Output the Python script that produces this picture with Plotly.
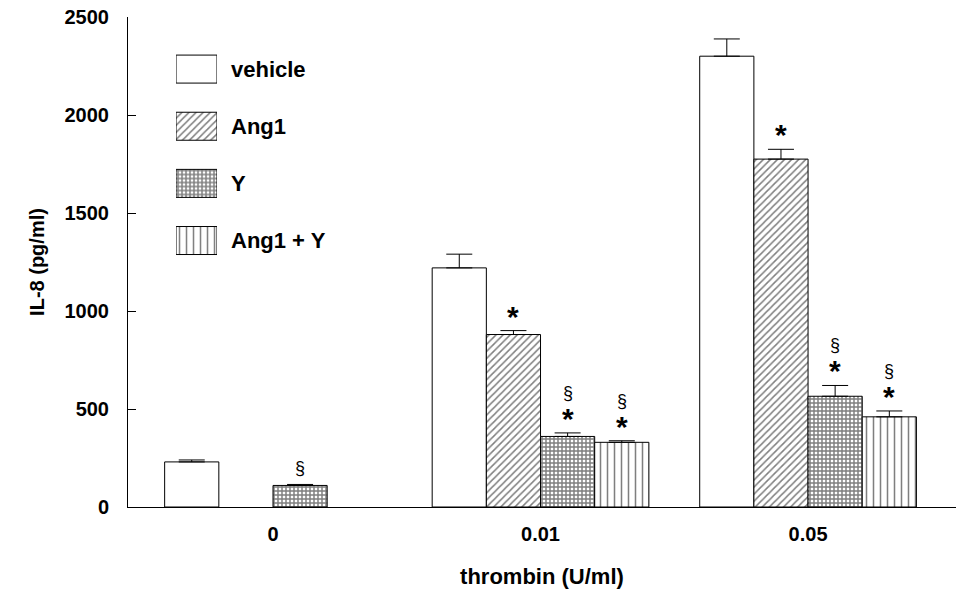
import plotly.graph_objects as go

# ---- data ----
groups = ["0", "0.01", "0.05"]
series = ["vehicle", "Ang1", "Y", "Ang1 + Y"]
vehicle = [230, 1220, 2300]
vehicle_err = [10, 70, 88]
ang1 = [None, 880, 1775]
ang1_err = [0, 20, 50]
y_inh = [110, 360, 565]
y_inh_err = [5, 18, 55]
ang1_y = [None, 330, 460]
ang1_y_err = [0, 8, 30]
# significance marks: "*" vs vehicle, "§" vs Ang1
star = {"vehicle": [0, 0, 0], "Ang1": [0, 1, 1], "Y": [0, 1, 1], "Ang1 + Y": [0, 1, 1]}
sect = {"vehicle": [0, 0, 0], "Ang1": [0, 0, 0], "Y": [1, 1, 1], "Ang1 + Y": [0, 1, 1]}

values = {"vehicle": vehicle, "Ang1": ang1, "Y": y_inh, "Ang1 + Y": ang1_y}
errors = {"vehicle": vehicle_err, "Ang1": ang1_err, "Y": y_inh_err, "Ang1 + Y": ang1_y_err}

# ---- styles ----
FONT = "Liberation Sans, Arial, sans-serif"
patterns = {
    "vehicle": dict(shape=""),
    "Ang1": dict(shape="/", size=5, solidity=0.3, fgcolor="black", bgcolor="white"),
    "Y": dict(shape="+", size=4, solidity=0.6, fgcolor="black", bgcolor="white"),
    "Ang1 + Y": dict(shape="|", size=7, solidity=0.22, fgcolor="black", bgcolor="white"),
}
BARGAP = 0.19

fig = go.Figure()
gidx = list(range(len(groups)))
for s in series:
    fig.add_trace(go.Bar(
        x=gidx, y=values[s], name=s, showlegend=False,
        marker=dict(color="white", line=dict(color="black", width=1),
                    pattern=patterns[s]),
        error_y=dict(type="data", array=errors[s], arrayminus=[0] * len(groups),
                     symmetric=False, color="black", thickness=1, width=13),
    ))

# significance annotations computed from the data
bw = (1 - BARGAP) / len(series)
for si, s in enumerate(series):
    off = (si - (len(series) - 1) / 2) * bw
    for gi in gidx:
        v = values[s][gi]
        if v is None:
            continue
        top = v + errors[s][gi]
        if star[s][gi]:
            fig.add_annotation(x=gi + off, y=top, xref="x", yref="y", text="<b>*</b>",
                               showarrow=False, yanchor="bottom", yshift=-4,
                               font=dict(family=FONT, size=30, color="black"))
        if sect[s][gi]:
            fig.add_annotation(x=gi + off, y=top, xref="x", yref="y", text="§",
                               showarrow=False, yanchor="bottom",
                               yshift=28 if star[s][gi] else 4,
                               font=dict(family=FONT, size=18, color="black"))

# legend drawn as an inset of patterned swatches
fig.add_trace(go.Bar(
    x=[1] * len(series), y=series, orientation="h", width=0.49,
    xaxis="x2", yaxis="y2", showlegend=False, hoverinfo="skip",
    marker=dict(color="white", line=dict(color="black", width=1),
                pattern=dict(shape=[patterns[s].get("shape", "") for s in series],
                             size=[patterns[s].get("size", 8) for s in series],
                             solidity=[patterns[s].get("solidity", 0.3) for s in series],
                             fgcolor="black", bgcolor="white")),
))

fig.update_layout(
    width=956, height=590,
    margin=dict(l=128, r=0, t=17, b=83),
    paper_bgcolor="white", plot_bgcolor="white",
    barmode="group", bargap=BARGAP, bargroupgap=0,
    font=dict(family=FONT, color="black"),
    xaxis=dict(
        range=[-0.542, 2.553], tickvals=gidx, ticktext=groups,
        showline=True, linecolor="black", linewidth=1, ticks="",
        showgrid=False, zeroline=False, ticklabelstandoff=9,
        tickfont=dict(family=FONT, size=20, weight="bold"),
        title=dict(text="thrombin (U/ml)", standoff=24,
                   font=dict(family=FONT, size=22, weight="bold")),
    ),
    yaxis=dict(
        range=[0, 2500], tickvals=[0, 500, 1000, 1500, 2000, 2500],
        showline=True, linecolor="black", linewidth=1,
        ticks="inside", ticklen=8, tickcolor="black",
        showgrid=False, zeroline=False, ticklabelstandoff=14,
        tickfont=dict(family=FONT, size=20, weight="bold"),
        title=dict(text="IL-8 (pg/ml)", standoff=14,
                   font=dict(family=FONT, size=20, weight="bold")),
    ),
    xaxis2=dict(domain=[0.058, 0.1075], range=[0, 1], anchor="y2",
                visible=False, fixedrange=True),
    yaxis2=dict(domain=[0.4855, 0.952], anchor="x2", side="right",
                autorange="reversed", showline=False, ticks="",
                showgrid=False, zeroline=False, ticklabelstandoff=13,
                tickfont=dict(family=FONT, size=22, weight="bold")),
)

fig.write_html("out.html")
